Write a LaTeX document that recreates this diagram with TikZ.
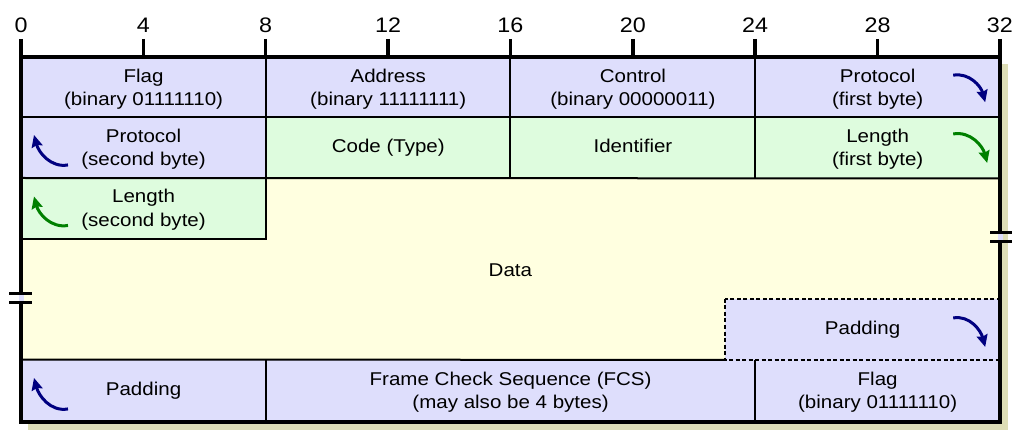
\documentclass[tikz,border=0pt]{standalone}
\usepackage{fontspec}
\setmainfont{Liberation Sans}[FakeStretch=1.11]
\usetikzlibrary{arrows.meta}
\definecolor{lav}{RGB}{222,222,252}
\definecolor{grn}{RGB}{222,252,222}
\definecolor{yel}{RGB}{255,255,224}
\definecolor{shad}{RGB}{221,221,182}
\definecolor{navy}{RGB}{0,0,128}
\definecolor{dgreen}{RGB}{0,128,0}
\newcommand{\fstrut}{\rule[-6pt]{0pt}{22pt}}
\begin{document}
\begin{tikzpicture}[x=1pt,y=-1pt,
  field/.style={rectangle, inner sep=0pt, anchor=north west, align=center,
    font=\fontsize{18.5}{23.5}\selectfont},
  rulerlbl/.style={anchor=base, inner sep=0pt, font=\fontsize{21}{24}\selectfont},
  tickline/.style={line width=3.5pt},
  frameline/.style={line width=4pt},
  innerline/.style={line width=2pt},
  dashline/.style={line width=2pt, dash pattern=on 4pt off 2.5pt},
  brkline/.style={line width=3pt},
  curvarrow/.style={line width=3pt, -{Stealth[length=12pt,width=11pt,inset=1.5pt]}},
  navarrow/.style={curvarrow, draw=navy},
  grnarrow/.style={curvarrow, draw=dgreen}]
\useasboundingbox (0,0) rectangle (1028,446);
% shadow
\fill[shad] (28,64) rectangle (1008,430);
% ruler
\foreach \b in {0,4,...,32} {
  \draw[tickline] (21+30.59*\b,39) -- (21+30.59*\b,57.5);
  \node[rulerlbl] (t\b) at (21+30.59*\b,33) {\b};
}
% row 1
\node[field, fill=lav, minimum width=244.7pt, minimum height=60pt] (flag1) at (21,57.5) {\fstrut Flag\\(binary 01111110)};
\node[field, fill=lav, minimum width=244.7pt, minimum height=60pt] (addr) at (265.7,57.5) {\fstrut Address\\(binary 11111111)};
\node[field, fill=lav, minimum width=244.7pt, minimum height=60pt] (ctrl) at (510.4,57.5) {\fstrut Control\\(binary 00000011)};
\node[field, fill=lav, minimum width=244.7pt, minimum height=60pt] (proto1) at (755.1,57.5) {\fstrut Protocol\\(first byte)};
% row 2
\node[field, fill=lav, minimum width=244.7pt, minimum height=60.5pt] (proto2) at (21,117.5) {\fstrut Protocol\\(second byte)};
\node[field, fill=grn, minimum width=244.7pt, minimum height=60.5pt] (code) at (265.7,117.5) {\fstrut Code (Type)};
\node[field, fill=grn, minimum width=244.7pt, minimum height=60.5pt] (ident) at (510.4,117.5) {\fstrut Identifier};
\node[field, fill=grn, minimum width=244.7pt, minimum height=60.5pt] (len1) at (755.1,117.5) {\fstrut Length\\(first byte)};
% data area
\node[field, fill=yel, minimum width=978.8pt, minimum height=181.5pt] (data) at (21,178) {};
\node[field, anchor=center] (datalbl) at (510.4,272) {\fstrut Data};
\node[field, fill=grn, minimum width=244.7pt, minimum height=60.5pt] (len2) at (21,178) {\fstrut Length\\(second byte)};
% last row
\node[field, fill=lav, minimum width=244.7pt, minimum height=62.5pt] (pad2) at (21,359.5) {\fstrut Padding};
\node[field, fill=lav, minimum width=489.4pt, minimum height=62.5pt] (fcs) at (265.7,359.5) {\fstrut Frame Check Sequence (FCS)\\(may also be 4 bytes)};
\node[field, fill=lav, minimum width=244.7pt, minimum height=62.5pt] (flag2) at (755.1,359.5) {\fstrut Flag\\(binary 01111110)};
\node[field, fill=lav, minimum width=274.8pt, minimum height=60.5pt] (padding) at (725,299) {\fstrut Padding};
% inner lines
\draw[innerline] (proto2.north west) -- (len1.north east);
\draw[innerline] (len2.north west) -- (len1.south east);
\draw[innerline] (len2.north east) -- (len2.south east) -- (len2.south west);
\draw[innerline] (addr.north west) -- (code.south west);
\draw[innerline] (ctrl.north west) -- (ident.south west);
\draw[innerline] (proto1.north west) -- (len1.south west);
\draw[innerline] (pad2.north west) -- (padding.south west);
\draw[innerline] (fcs.north west) -- (fcs.south west);
\draw[innerline] (flag2.north west) -- (flag2.south west);
\draw[dashline] (padding.north west) rectangle (padding.south east);
% outer frame
\draw[frameline] (flag1.north west) rectangle (flag2.south east);
% break marks
\fill[lav] (997.5,234.5) rectangle (1002.5,240.5);
\draw[brkline] (990,233) -- (1012,233);
\draw[brkline] (990,242) -- (1012,242);
\fill[lav] (18.5,295) rectangle (23.5,301.5);
\draw[brkline] (9,293.5) -- (32,293.5);
\draw[brkline] (9,303) -- (32,303);
% arrows
\draw[navarrow] ([xshift=-47pt,yshift=12.5pt]proto1.east) to[out=10,in=105] ([xshift=-15pt,yshift=-14.5pt]proto1.east);
\draw[grnarrow] ([xshift=-47pt,yshift=14pt]len1.east) to[out=10,in=105] ([xshift=-13pt,yshift=-15pt]len1.east);
\draw[navarrow] ([xshift=-47pt,yshift=11.5pt]padding.east) to[out=10,in=105] ([xshift=-15pt,yshift=-17.5pt]padding.east);
\draw[navarrow] ([xshift=47pt,yshift=-17pt]proto2.west) to[out=190,in=-75] ([xshift=13pt,yshift=13pt]proto2.west);
\draw[grnarrow] ([xshift=47pt,yshift=-17pt]len2.west) to[out=190,in=-75] ([xshift=13pt,yshift=12pt]len2.west);
\draw[navarrow] ([xshift=47pt,yshift=-18pt]pad2.west) to[out=190,in=-75] ([xshift=13pt,yshift=13pt]pad2.west);
\end{tikzpicture}
\end{document}
